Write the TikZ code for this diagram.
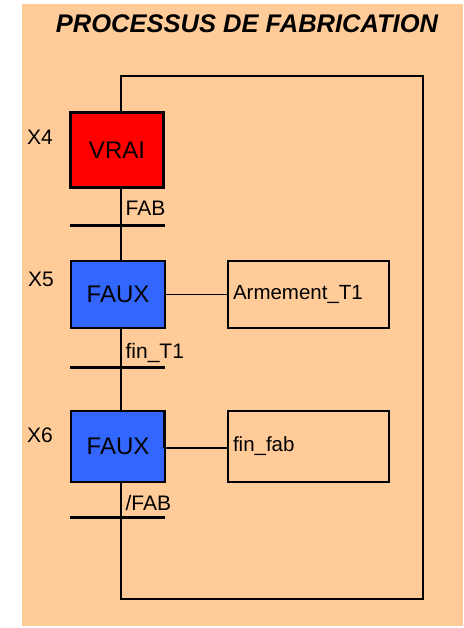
\documentclass[tikz,border=0pt]{standalone}
\usepackage{fontspec}
\setmainfont{Liberation Sans}
\usepackage{tikz}
\usetikzlibrary{positioning}

\definecolor{fondorange}{RGB}{255,204,153}
\definecolor{vraired}{RGB}{255,0,0}
\definecolor{fauxblue}{RGB}{51,102,255}

\begin{document}
\begin{tikzpicture}[
  x=1pt, y=-1pt,
  line width=1.2pt,
  etape/.style={draw, fill=fauxblue, minimum width=94pt, minimum height=67pt, inner sep=0pt, font=\fontsize{24}{26}\selectfont},
  action/.style={draw, minimum width=161pt, minimum height=67pt, text width=151pt, inner xsep=5pt, align=left, font=\fontsize{20.5}{22}\selectfont},
  trans/.style={fill=black, minimum width=95pt, minimum height=3pt, inner sep=0pt},
  lbl/.style={inner sep=0pt, font=\fontsize{21}{22}\selectfont}
]
  \useasboundingbox (0,0) rectangle (463,628);
  \fill[fondorange] (22,4) rectangle (463,626);

  \node[inner sep=0pt, font=\fontsize{25.5}{28}\selectfont\bfseries\itshape] (titre) at (247,24) {PROCESSUS DE FABRICATION};

  % etapes
  \node[etape, fill=vraired, line width=3pt, minimum width=93pt, minimum height=75pt] (x4) at (117,150) {VRAI};
  \node[etape] (x5) at (118,294.5) {FAUX};
  \node[etape, minimum height=71pt] (x6) at (118,446.5) {FAUX};
  \node[lbl] (nx4) at (40,137) {X4};
  \node[lbl] (nx5) at (41,279) {X5};
  \node[lbl] (nx6) at (40,435) {X6};

  % actions
  \node[action] (a5) at (308.5,294.5) {Armement\_T1};
  \node[action, minimum height=71pt] (a6) at (308.5,446.5) {fin\_fab};

  % transitions
  \node[trans] (t1) at (117.5,225) {};
  \node[trans] (t2) at (117.5,367) {};
  \node[trans] (t3) at (117.5,517) {};
  \node[lbl, anchor=west] (r1) at (125,208) {FAB};
  \node[lbl, anchor=west] (r2) at (125,353) {fin\_T1};
  \node[lbl, anchor=west] (r3) at (125,503) {/FAB};

  % liaisons
  \coordinate (hautG) at (121,76);
  \coordinate (hautD) at (423,76);
  \coordinate (basD) at (423,599);
  \coordinate (basG) at (121,599);
  \draw (x4.north -| hautG) -- (hautG) -- (hautD) -- (basD) -- (basG) -- (t3.south -| basG);
  \draw (x4.south -| hautG) -- (t1 -| hautG) -- (x5.north -| hautG);
  \draw (x5.south -| hautG) -- (t2 -| hautG) -- (x6.north -| hautG);
  \draw (x6.south -| hautG) -- (t3 -| hautG);
  \draw (x5.east) -- (a5.west);
  \draw (x6.east |- 0,448) -- (a6.west |- 0,448);
  \draw[line width=2.4pt] ([xshift=-1pt]x6.north east) -- ([xshift=-1pt,yshift=-1.5pt]x6.east);
\end{tikzpicture}
\end{document}
